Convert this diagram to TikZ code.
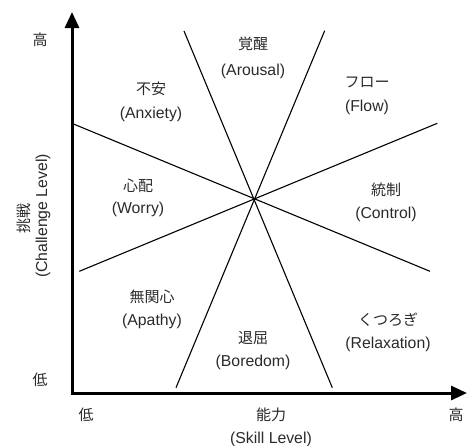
\documentclass[tikz,border=0pt]{standalone}
\usepackage{fontspec}
\setmainfont{Liberation Sans}
\newfontfamily\jp{Noto Sans CJK JP}
\usetikzlibrary{arrows.meta}
\definecolor{txt}{HTML}{2A2A2A}
\begin{document}
\begin{tikzpicture}[x=1pt,y=-1pt,
  lbl/.style={text=txt,inner sep=0pt,font=\fontsize{15.8}{18}\selectfont},
  jlbl/.style={text=txt,inner sep=0pt,font=\fontsize{15}{18}\selectfont\jp},
  tip/.style={-{Triangle[length=16pt,width=14pt]}},
  div/.style={line width=1.1pt,black}]
\useasboundingbox (0,0) rectangle (468,445);
% axes
\coordinate (ytop) at (72,12);
\coordinate (org) at (72,393);
\coordinate (xend) at (467,393);
\draw[line width=3pt,line join=miter,{Triangle[length=16pt,width=14pt]}-{Triangle[length=16pt,width=14pt]}] (ytop) -- (org) -- (xend);
% dividing lines
\coordinate (l1a) at (184,31);   \coordinate (l1b) at (332.3,387.7);
\coordinate (l2a) at (324.7,30.7); \coordinate (l2b) at (176,387.7);
\coordinate (l3a) at (73.5,124); \coordinate (l3b) at (430,271.3);
\coordinate (l4a) at (79.3,271.3); \coordinate (l4b) at (437.3,123.3);
\draw[div] (l1a) -- (l1b);
\draw[div] (l2a) -- (l2b);
\draw[div] (l3a) -- (l3b);
\draw[div] (l4a) -- (l4b);
% region labels
\node[jlbl] (arj) at (253,44) {覚醒};
\node[lbl]  (are) at (253,71) {(Arousal)};
\node[jlbl] (anj) at (151,89) {不安};
\node[lbl]  (ane) at (151,114) {(Anxiety)};
\node[jlbl] (flj) at (367,82) {フロー};
\node[lbl]  (fle) at (367,107) {(Flow)};
\node[jlbl] (woj) at (138,186) {心配};
\node[lbl]  (woe) at (138,209) {(Worry)};
\node[jlbl] (coj) at (386,190) {統制};
\node[lbl]  (coe) at (386,214) {(Control)};
\node[jlbl] (apj) at (152,297) {無関心};
\node[lbl]  (ape) at (152,321) {(Apathy)};
\node[jlbl] (boj) at (253,338) {退屈};
\node[lbl]  (boe) at (253,362) {(Boredom)};
\node[jlbl] (rej) at (388,320) {くつろぎ};
\node[lbl]  (ree) at (388,344) {(Relaxation)};
% axis labels
\node[jlbl] (yhi) at (40,40) {高};
\node[jlbl] (ylo) at (40,380) {低};
\node[jlbl,rotate=90] (ytj) at (24,218) {挑戦};
\node[lbl,rotate=90] (yte) at (43,216) {(Challenge Level)};
\node[jlbl] (xlo) at (86,415) {低};
\node[jlbl] (xtj) at (271,415) {能力};
\node[lbl] (xte) at (271,439) {(Skill Level)};
\node[jlbl] (xhi) at (456,415) {高};
\end{tikzpicture}
\end{document}
